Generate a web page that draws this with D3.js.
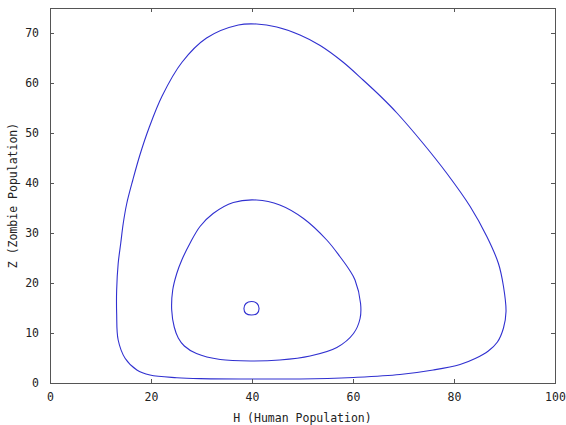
<!DOCTYPE html>
<html>
<head>
<meta charset="utf-8">
<script src="https://cdn.jsdelivr.net/npm/d3@7"></script>
<style>
    body { margin: 0; background: #fff; }
    text { font-family: "DejaVu Sans Mono", monospace; fill: #222; }
</style>
</head>
<body>
<script>
// set the dimensions and margins of the graph
const SCREEN_DIMENSIONS = {
    width: 566,
    height: 425,
    leftMargin: 50,
    rightMargin: 11,
    topMargin: 8,
    bottomMargin: 42,
    tickSize: 4
};
SCREEN_DIMENSIONS.innerWidth = SCREEN_DIMENSIONS.width - SCREEN_DIMENSIONS.leftMargin - SCREEN_DIMENSIONS.rightMargin;
SCREEN_DIMENSIONS.innerHeight = SCREEN_DIMENSIONS.height - SCREEN_DIMENSIONS.topMargin - SCREEN_DIMENSIONS.bottomMargin;

// tick values
const xTicks = [0, 20, 40, 60, 80, 100];
const yTicks = [0, 10, 20, 30, 40, 50, 60, 70];

// orbits, [H, Z]
const outerOrbit = [
    [40.9, 71.8], [44.9, 71.2], [49.5, 69.6], [53.5, 67.5], [58.0, 64.2], [62.0, 60.6],
    [65.5, 57.3], [68.7, 54.0], [73.9, 47.9], [78.6, 41.9], [83.2, 35.3], [86.5, 29.3],
    [88.8, 23.9], [89.8, 19.3], [90.3, 14.3], [89.8, 11.0], [88.6, 8.2], [86.8, 6.4],
    [84.2, 4.9], [81.2, 3.7], [75.9, 2.6], [69.3, 1.7], [60.1, 1.1], [55.0, 0.9],
    [49.5, 0.8], [40.0, 0.8], [29.7, 0.87], [25.1, 1.06], [19.8, 1.6], [17.2, 2.6],
    [14.9, 4.9], [13.5, 8.6], [13.2, 13.9], [13.2, 18.6], [13.5, 23.9], [14.0, 27.9],
    [14.5, 31.9], [15.2, 35.9], [16.4, 40.6], [17.8, 45.6], [19.6, 51.0], [22.2, 57.4],
    [26.1, 64.1], [31.0, 69.0], [37.3, 71.6]
];
const middleOrbit = [
    [40.9, 36.6], [45.5, 35.6], [50.2, 32.9], [54.8, 28.6], [57.4, 25.3], [59.3, 22.6],
    [60.4, 20.6], [61.5, 15.9], [61.4, 12.9], [60.1, 9.9], [56.8, 7.1], [51.5, 5.4],
    [45.5, 4.6], [40.0, 4.4], [33.7, 4.7], [29.0, 5.9], [26.6, 7.4], [25.4, 9.0],
    [24.6, 11.2], [24.1, 14.6], [24.3, 18.6], [25.1, 21.9], [26.1, 24.6], [27.7, 27.9],
    [29.7, 31.3], [32.3, 33.9], [36.3, 36.1]
];
const innerOrbit = [
    [39.9, 16.3], [41.0, 15.9], [41.4, 14.9], [41.0, 13.9], [39.9, 13.6],
    [38.8, 13.9], [38.4, 14.9], [38.8, 15.9]
];
const orbits = [outerOrbit, middleOrbit, innerOrbit];

const svg = d3.select('body').append('svg')
    .attr('width', SCREEN_DIMENSIONS.width)
    .attr('height', SCREEN_DIMENSIONS.height);

const canvas = svg.append('g')
    .attr('transform', `translate(${SCREEN_DIMENSIONS.leftMargin},${SCREEN_DIMENSIONS.topMargin})`);

const xScale = d3.scaleLinear([0, 100], [0, SCREEN_DIMENSIONS.innerWidth]);
const yScale = d3.scaleLinear([0, 75], [SCREEN_DIMENSIONS.innerHeight, 0]);

// curves
const line = d3.line()
    .x(d => xScale(d[0]))
    .y(d => yScale(d[1]))
    .curve(d3.curveCatmullRomClosed);

canvas.append('g')
    .selectAll('path')
    .data(orbits)
    .join('path')
    .attr('d', line)
    .attr('fill', 'none')
    .attr('stroke', '#3030d0')
    .attr('stroke-width', 1.1);

// axes (ticks point inward, mirrored on top and right)
const tk = SCREEN_DIMENSIONS.tickSize;
const styleAxis = g => {
    g.select('.domain').remove();
    g.selectAll('.tick line').attr('stroke', '#555');
    g.selectAll('.tick text').attr('font-size', 11.5).attr('fill', '#222');
};

canvas.append('g')
    .attr('transform', `translate(0,${SCREEN_DIMENSIONS.innerHeight})`)
    .call(d3.axisBottom(xScale).tickValues(xTicks).tickSize(-tk).tickPadding(10))
    .call(styleAxis);
canvas.append('g')
    .call(d3.axisTop(xScale).tickValues(xTicks).tickSize(-tk).tickFormat(''))
    .call(styleAxis);
canvas.append('g')
    .call(d3.axisLeft(yScale).tickValues(yTicks).tickSize(-tk).tickPadding(11))
    .call(styleAxis);
canvas.append('g')
    .attr('transform', `translate(${SCREEN_DIMENSIONS.innerWidth},0)`)
    .call(d3.axisRight(yScale).tickValues(yTicks).tickSize(-tk).tickFormat(''))
    .call(styleAxis);

// frame
canvas.append('rect')
    .attr('x', 0.5)
    .attr('y', 0.5)
    .attr('width', SCREEN_DIMENSIONS.innerWidth)
    .attr('height', SCREEN_DIMENSIONS.innerHeight)
    .attr('fill', 'none')
    .attr('stroke', '#555');

// labels
svg.append('text')
    .attr('x', SCREEN_DIMENSIONS.leftMargin + SCREEN_DIMENSIONS.innerWidth / 2)
    .attr('y', 422)
    .attr('text-anchor', 'middle')
    .attr('font-size', 11.5)
    .text('H (Human Population)');

svg.append('text')
    .attr('transform', `translate(17,${SCREEN_DIMENSIONS.topMargin + SCREEN_DIMENSIONS.innerHeight / 2}) rotate(-90)`)
    .attr('text-anchor', 'middle')
    .attr('font-size', 11.5)
    .text('Z (Zombie Population)');
</script>
</body>
</html>
